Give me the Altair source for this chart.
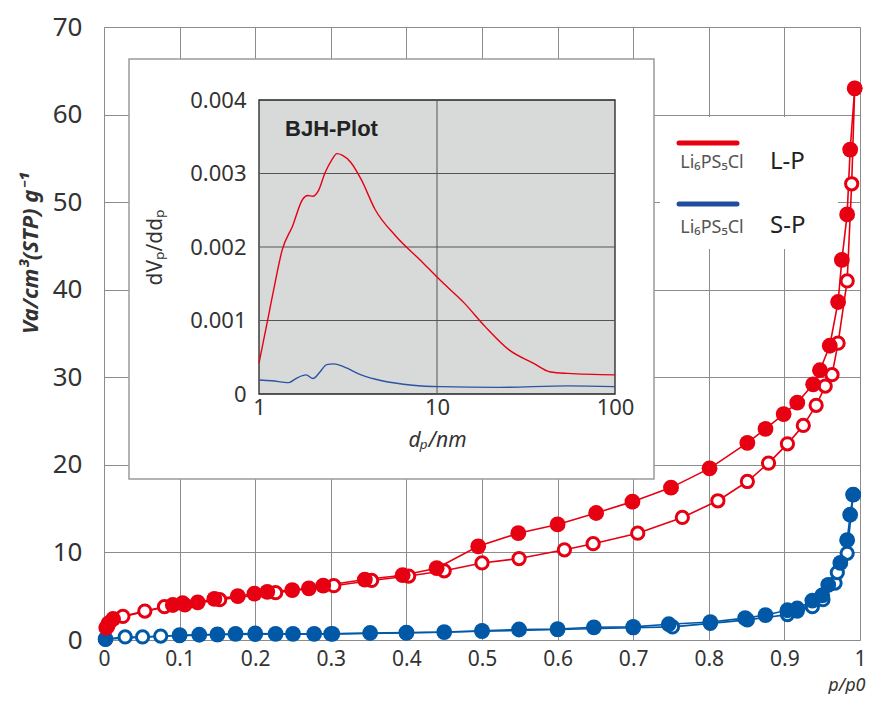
import altair as alt
import pandas as pd

RED = "#E60012"
BLUE = "#0058A6"
FONT = "Noto Sans"

# ---- main isotherm data (p/p0, Va) ----
red_fill_p = [0.003, 0.006, 0.012, 0.091, 0.104, 0.124, 0.146, 0.177, 0.199, 0.216,
              0.249, 0.271, 0.290, 0.345, 0.395, 0.440, 0.495, 0.548, 0.600, 0.651,
              0.699, 0.750, 0.801, 0.851, 0.875, 0.899, 0.917, 0.938, 0.947, 0.960,
              0.971, 0.976, 0.983, 0.987, 0.993]
red_fill_v = [1.4, 1.9, 2.4, 4.0, 4.2, 4.3, 4.7, 5.0, 5.3, 5.5,
              5.7, 5.9, 6.2, 6.9, 7.4, 8.2, 10.7, 12.2, 13.2, 14.5,
              15.8, 17.4, 19.6, 22.5, 24.1, 25.8, 27.1, 29.2, 30.8, 33.6,
              38.6, 43.4, 48.6, 56.0, 63.0]
red_open_p = [0.005, 0.025, 0.054, 0.080, 0.107, 0.153, 0.227, 0.304, 0.354, 0.403,
              0.450, 0.500, 0.549, 0.609, 0.647, 0.706, 0.765, 0.812, 0.851, 0.879,
              0.904, 0.925, 0.942, 0.954, 0.963, 0.971, 0.983, 0.989, 0.993]
red_open_v = [1.6, 2.7, 3.3, 3.8, 4.0, 4.6, 5.4, 6.2, 6.8, 7.3,
              7.9, 8.8, 9.3, 10.3, 11.0, 12.2, 14.0, 15.9, 18.1, 20.2,
              22.4, 24.5, 26.8, 29.0, 30.3, 33.9, 41.0, 52.1, 63.0]
blue_fill_p = [0.002, 0.100, 0.126, 0.150, 0.174, 0.200, 0.227, 0.250, 0.278, 0.302,
               0.352, 0.400, 0.450, 0.500, 0.549, 0.600, 0.648, 0.700, 0.747, 0.802,
               0.848, 0.875, 0.904, 0.917, 0.937, 0.950, 0.958, 0.974, 0.983, 0.987,
               0.991]
blue_fill_v = [0.1, 0.55, 0.6, 0.65, 0.7, 0.75, 0.7, 0.7, 0.7, 0.7,
               0.8, 0.85, 0.9, 1.05, 1.2, 1.25, 1.45, 1.5, 1.8, 2.05,
               2.5, 2.85, 3.4, 3.6, 4.5, 5.1, 6.3, 8.8, 11.4, 14.3,
               16.6]
blue_open_p = [0.002, 0.028, 0.051, 0.075, 0.100, 0.150, 0.200, 0.300, 0.400, 0.500,
               0.600, 0.700, 0.752, 0.802, 0.851, 0.904, 0.917, 0.937, 0.951, 0.967,
               0.970, 0.983, 0.991]
blue_open_v = [0.1, 0.35, 0.35, 0.45, 0.5, 0.6, 0.65, 0.7, 0.8, 1.0,
               1.2, 1.4, 1.5, 1.9, 2.3, 2.9, 3.3, 3.8, 4.6, 6.5,
               7.7, 9.9, 16.6]

# ---- inset BJH data (dp in nm, dVp/ddp) ----
bjh_red_d = [1.0, 1.128, 1.23, 1.35, 1.54, 1.76, 1.88, 2.01, 2.15, 2.35, 2.57, 2.74,
             2.93, 3.28, 3.75, 4.49, 5.86, 7.98, 10.4, 14.2, 18.6, 25.4, 34.7, 43.4,
             54.3, 100.0]
bjh_red_v = [0.00042, 0.00105, 0.00151, 0.00196, 0.00228, 0.00265, 0.0027, 0.00269,
             0.00276, 0.00301, 0.00319, 0.00327, 0.00325, 0.00315, 0.00292, 0.00251,
             0.00215, 0.00183, 0.00155, 0.00124, 0.00092, 0.0006, 0.00042, 0.0003,
             0.00028, 0.00026]
bjh_blue_d = [1.0, 1.18, 1.47, 1.61, 1.84, 2.01, 2.2, 2.4, 2.63, 3.0, 3.75, 4.9, 7.3,
              10.4, 22.2, 54.3, 100.0]
bjh_blue_v = [0.00019, 0.00018, 0.000155, 0.00021, 0.00026, 0.00021, 0.0003, 0.0004,
              0.00041, 0.00037, 0.00026, 0.00018, 0.00012, 0.0001, 0.00009, 0.00011,
              0.0001]

main_x_ticks = [0, 0.1, 0.2, 0.3, 0.4, 0.5, 0.6, 0.7, 0.8, 0.9, 1]
main_y_ticks = [0, 10, 20, 30, 40, 50, 60, 70]
inset_x_ticks = [1, 10, 100]
inset_y_ticks = [0, 0.001, 0.002, 0.003, 0.004]
inset_x_grid = [10]
inset_y_grid = [0.001, 0.002, 0.003]

W, H = 756, 613
LEFT = 96
DX = 106 - (8 + LEFT)  # shift of reference-pixel positions relative to plot origin

# ---------------- main chart ----------------
xs_main = alt.Scale(domain=[0, 1], nice=False, zero=False)
ys_main = alt.Scale(domain=[0, 70], nice=False)
x_axis_main = alt.Axis(
    orient="bottom", values=main_x_ticks, format="~g", grid=True, gridColor="#8c8c8c",
    gridWidth=1, ticks=False, domain=False, labelFontSize=21, labelColor="#333",
    labelPadding=8, labelFlush=False, labelOverlap=False, labelFont=FONT,
    title="p/p0", titleFont=FONT, titleFontStyle="italic", titleFontWeight="normal",
    titleFontSize=18, titleColor="#333", titleX=761, titleY=50, titleAlign="right",
    titleBaseline="alphabetic", zindex=0)
y_axis_main = alt.Axis(
    orient="left", values=main_y_ticks, grid=True, gridColor="#8c8c8c", gridWidth=1,
    ticks=False, domain=False, labelFontSize=26, labelColor="#333", labelPadding=22,
    labelFont=FONT, title="Va/cm³(STP) g⁻¹", titleFont=FONT, titleFontSize=22,
    titleFontStyle="italic", titleFontWeight="bold", titleColor="#333",
    titleX=-74, titleY=226, titleAngle=270, titleAlign="center",
    titleBaseline="middle", zindex=0)

def mx():
    return alt.X("p:Q", scale=xs_main, axis=x_axis_main)

def my():
    return alt.Y("v:Q", scale=ys_main, axis=y_axis_main)

df_rf = pd.DataFrame({"p": red_fill_p, "v": red_fill_v})
df_ro = pd.DataFrame({"p": red_open_p, "v": red_open_v})
df_bf = pd.DataFrame({"p": blue_fill_p, "v": blue_fill_v})
df_bo = pd.DataFrame({"p": blue_open_p, "v": blue_open_v})

def line(df, color):
    return alt.Chart(df).mark_line(color=color, strokeWidth=1.6).encode(
        x=mx(), y=my(), order="p:Q")

def filled(df, color):
    return alt.Chart(df).mark_point(shape="circle", filled=True, fill=color,
                                    opacity=1, size=250, strokeWidth=0).encode(x=mx(), y=my())

def hollow(df, color):
    return alt.Chart(df).mark_point(shape="circle", filled=True, fill="white",
                                    stroke=color, strokeWidth=3, opacity=1,
                                    size=150).encode(x=mx(), y=my())

main = alt.layer(
    line(df_bo, BLUE), line(df_bf, BLUE), hollow(df_bo, BLUE), filled(df_bf, BLUE),
    line(df_ro, RED), line(df_rf, RED), hollow(df_ro, RED), filled(df_rf, RED),
)

# ---------------- inset ----------------
xs_in = alt.Scale(type="log", domain=[1, 100], range=[153 + DX, 509 + DX], nice=False)
ys_in = alt.Scale(domain=[0, 0.004], range=[367, 73], nice=False, zero=False)
x_axis_in = alt.Axis(
    orient="bottom", offset=-246, values=inset_x_ticks, format="~g", grid=False,
    ticks=False, domain=False, labelFontSize=22, labelColor="#333", labelPadding=3,
    labelFlush=False, labelOverlap=False, labelFont=FONT, title="dₚ/nm",
    titleFont=FONT, titleFontStyle="italic", titleFontWeight="normal",
    titleFontSize=21, titleColor="#333", titleX=331 + DX, titleY=46,
    titleAlign="center", titleBaseline="middle", zindex=2)
y_axis_in = alt.Axis(
    orient="left", offset=-(153 + DX), values=inset_y_ticks, format="~g", grid=False,
    ticks=False, domain=False, labelFontSize=22, labelColor="#333", labelPadding=13,
    labelFont=FONT, labelOverlap=False, title="dVₚ/ddₚ", titleFont=FONT,
    titleFontSize=21, titleFontWeight="normal", titleColor="#333", titleX=-104,
    titleY=220, titleAngle=270, titleAlign="center", titleBaseline="middle", zindex=2)

one = pd.DataFrame({"k": [0]})

def ix(**kw):
    return alt.X(scale=xs_in, axis=x_axis_in, **kw)

def iy(**kw):
    return alt.Y(scale=ys_in, axis=y_axis_in, **kw)

gray = alt.Chart(one).mark_rect(fill="#d8dad9", stroke="#222", strokeWidth=1.3).encode(
    x=ix(datum=1, type="quantitative"), x2=alt.X2(datum=100),
    y=iy(datum=0, type="quantitative"), y2=alt.Y2(datum=0.004))
grid_h = alt.Chart(pd.DataFrame({"dv": inset_y_grid})).mark_rule(
    color="#555", strokeWidth=1).encode(
    y=iy(field="dv", type="quantitative"),
    x=ix(datum=1, type="quantitative"), x2=alt.X2(datum=100))
grid_v = alt.Chart(pd.DataFrame({"d": inset_x_grid})).mark_rule(
    color="#555", strokeWidth=1).encode(
    x=ix(field="d", type="quantitative"),
    y=iy(datum=0, type="quantitative"), y2=alt.Y2(datum=0.004))
red_curve = alt.Chart(pd.DataFrame({"d": bjh_red_d, "dv": bjh_red_v})).mark_line(
    color=RED, strokeWidth=1.4, interpolate="monotone").encode(
    x=ix(field="d", type="quantitative"), y=iy(field="dv", type="quantitative"))
blue_curve = alt.Chart(pd.DataFrame({"d": bjh_blue_d, "dv": bjh_blue_v})).mark_line(
    color="#2a55a0", strokeWidth=1.4, interpolate="monotone").encode(
    x=ix(field="d", type="quantitative"), y=iy(field="dv", type="quantitative"))
bjh_text = alt.Chart(one).mark_text(
    text="BJH-Plot", font="Liberation Sans", fontWeight="bold", fontSize=22,
    align="left", baseline="middle", color="#222").encode(
    x=ix(datum=1.4, type="quantitative"), y=iy(datum=0.0036, type="quantitative"))

inset = alt.layer(gray, grid_h, grid_v, red_curve, blue_curve, bjh_text)

# ---------------- decorations & legend ----------------
inset_box = alt.Chart(one).mark_rect(fill="white", stroke="#9a9a9a", strokeWidth=1.5).encode(
    x=alt.value(23 + DX), x2=alt.value(548 + DX), y=alt.value(32), y2=alt.value(452))
legend_box = alt.Chart(one).mark_rect(fill="white").encode(
    x=alt.value(554 + DX), x2=alt.value(732 + DX), y=alt.value(90), y2=alt.value(222))
leg_red = alt.Chart(one).mark_rule(color=RED, strokeWidth=5, strokeCap="round").encode(
    x=alt.value(573 + DX), x2=alt.value(631 + DX), y=alt.value(116))
leg_blue = alt.Chart(one).mark_rule(color="#1f4e9c", strokeWidth=5, strokeCap="round").encode(
    x=alt.value(573 + DX), x2=alt.value(631 + DX), y=alt.value(177))
leg_t1 = alt.Chart(one).mark_text(text="Li₆PS₅Cl", font=FONT, fontSize=18, color="#555",
                                  align="center", baseline="middle").encode(
    x=alt.value(606 + DX), y=alt.value(136))
leg_t2 = alt.Chart(one).mark_text(text="Li₆PS₅Cl", font=FONT, fontSize=18, color="#555",
                                  align="center", baseline="middle").encode(
    x=alt.value(606 + DX), y=alt.value(201))
leg_lp = alt.Chart(one).mark_text(text="L-P", font=FONT, fontSize=24, color="#222",
                                  align="left", baseline="middle").encode(
    x=alt.value(664 + DX), y=alt.value(135))
leg_sp = alt.Chart(one).mark_text(text="S-P", font=FONT, fontSize=24, color="#222",
                                  align="left", baseline="middle").encode(
    x=alt.value(664 + DX), y=alt.value(199))

chart = alt.layer(
    inset_box, inset, legend_box, leg_red, leg_blue, leg_t1, leg_t2, leg_lp, leg_sp, main
).resolve_scale(x="independent", y="independent").properties(
    width=W, height=H,
    autosize=alt.AutoSizeParams(type="none"),
    padding={"left": LEFT, "top": 19, "right": 6, "bottom": 54},
).configure_view(stroke="#222", strokeWidth=1.5).configure(font=FONT)

chart.save("out.html", embed_options={"renderer": "svg", "actions": False})
